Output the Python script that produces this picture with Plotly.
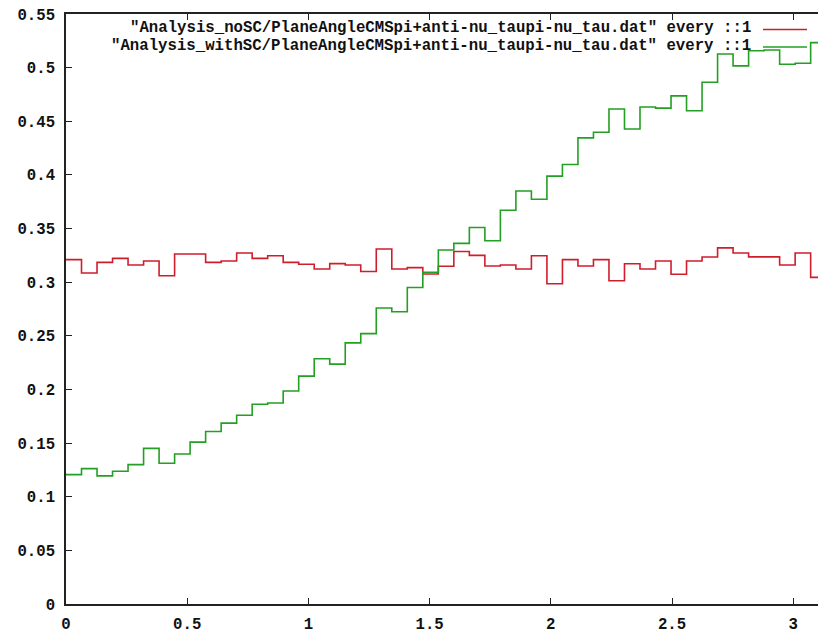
import plotly.graph_objects as go

# Bin width of the histogram-like step data (x in radians)
bin_width = 0.064

# Values (one per bin, 49 visible bins)
no_sc = [0.321, 0.3086, 0.3185, 0.3222, 0.316, 0.3198, 0.306, 0.3263, 0.3263, 0.3185,
         0.3198, 0.3272, 0.3222, 0.3247, 0.3185, 0.3167, 0.3123, 0.3173, 0.316, 0.3099,
         0.3309, 0.3123, 0.3136, 0.3076, 0.3148, 0.3286, 0.325, 0.3151, 0.316, 0.3123,
         0.3247, 0.2986, 0.321, 0.3151, 0.321, 0.3013, 0.3172, 0.3123, 0.3198, 0.3074,
         0.3198, 0.3235, 0.332, 0.3272, 0.3236, 0.3236, 0.316, 0.3272, 0.3045]
with_sc = [0.1206, 0.1262, 0.1194, 0.1237, 0.1299, 0.1451, 0.1312, 0.1398, 0.1509, 0.1608,
           0.1686, 0.176, 0.1862, 0.1874, 0.1985, 0.2124, 0.2286, 0.2236, 0.2434, 0.252,
           0.2759, 0.2724, 0.295, 0.3093, 0.33, 0.3362, 0.351, 0.3386, 0.3671, 0.385,
           0.3773, 0.3989, 0.4097, 0.4345, 0.4397, 0.4614, 0.4428, 0.4633, 0.4623, 0.4737,
           0.4598, 0.4864, 0.5127, 0.5016, 0.5158, 0.5164, 0.5031, 0.5041, 0.5233]

series_names = [
    '"Analysis_noSC/PlaneAngleCMSpi+anti-nu_taupi-nu_tau.dat" every ::1',
    '"Analysis_withSC/PlaneAngleCMSpi+anti-nu_taupi-nu_tau.dat" every ::1',
]
series_colors = ["#cf1d2b", "#23a023"]

x_ticks = [0, 0.5, 1, 1.5, 2, 2.5, 3]
y_ticks = [0, 0.05, 0.1, 0.15, 0.2, 0.25, 0.3, 0.35, 0.4, 0.45, 0.5, 0.55]

W, H = 818, 634
ML, MR, MT, MB = 66, 0, 14, 27
px_per_unit_x = 242.4

FONT = dict(family="Liberation Mono, DejaVu Sans Mono, monospace", size=15.7,
            color="#111111", weight="bold")


def steps(vals):
    xs = [i * bin_width for i in range(len(vals))] + [len(vals) * bin_width]
    ys = list(vals) + [vals[-1]]
    return xs, ys


fig = go.Figure()
for vals, name, col in zip([no_sc, with_sc], series_names, series_colors):
    xs, ys = steps(vals)
    fig.add_trace(go.Scatter(x=xs, y=ys, mode="lines", name=name,
                             line=dict(color=col, width=1.6, shape="hv"),
                             showlegend=False))

# gnuplot-style key: right-aligned text followed by a line sample
plot_w = W - ML - MR
plot_h = H - MT - MB
rows_px = [28.5, 46.0]
text_right_px = 752
sample_x_px = (763, 807)
for (name, col, ypx) in zip(series_names, series_colors, rows_px):
    ypaper = (H - MB - ypx) / plot_h
    fig.add_annotation(x=(text_right_px - ML) / plot_w, y=ypaper, xref="paper", yref="paper",
                       text=name, showarrow=False, xanchor="right", yanchor="middle",
                       font=FONT, borderpad=0)
    fig.add_shape(type="line", xref="paper", yref="paper",
                  x0=(sample_x_px[0] - ML) / plot_w, x1=(sample_x_px[1] - ML) / plot_w,
                  y0=ypaper - 0.002, y1=ypaper - 0.002,
                  line=dict(color=col, width=1.5))

fig.update_layout(
    width=W, height=H,
    margin=dict(l=ML, r=MR, t=MT, b=MB, pad=0),
    paper_bgcolor="white", plot_bgcolor="white",
    font=FONT,
    showlegend=False,
)
fig.update_xaxes(range=[0, plot_w / px_per_unit_x], tickvals=x_ticks,
                 ticks="inside", ticklen=6, tickwidth=1.2, tickcolor="#222",
                 showline=True, linecolor="#222", linewidth=1.5, mirror="ticks",
                 showgrid=False, zeroline=False, ticklabelstandoff=4,
                 tickfont=FONT)
fig.update_yaxes(range=[0, 0.55], tickvals=y_ticks,
                 ticks="inside", ticklen=6, tickwidth=1.2, tickcolor="#222",
                 showline=True, linecolor="#222", linewidth=1.5,
                 showgrid=False, zeroline=False, ticklabelstandoff=6,
                 tickfont=FONT)

fig.write_html("out.html")
